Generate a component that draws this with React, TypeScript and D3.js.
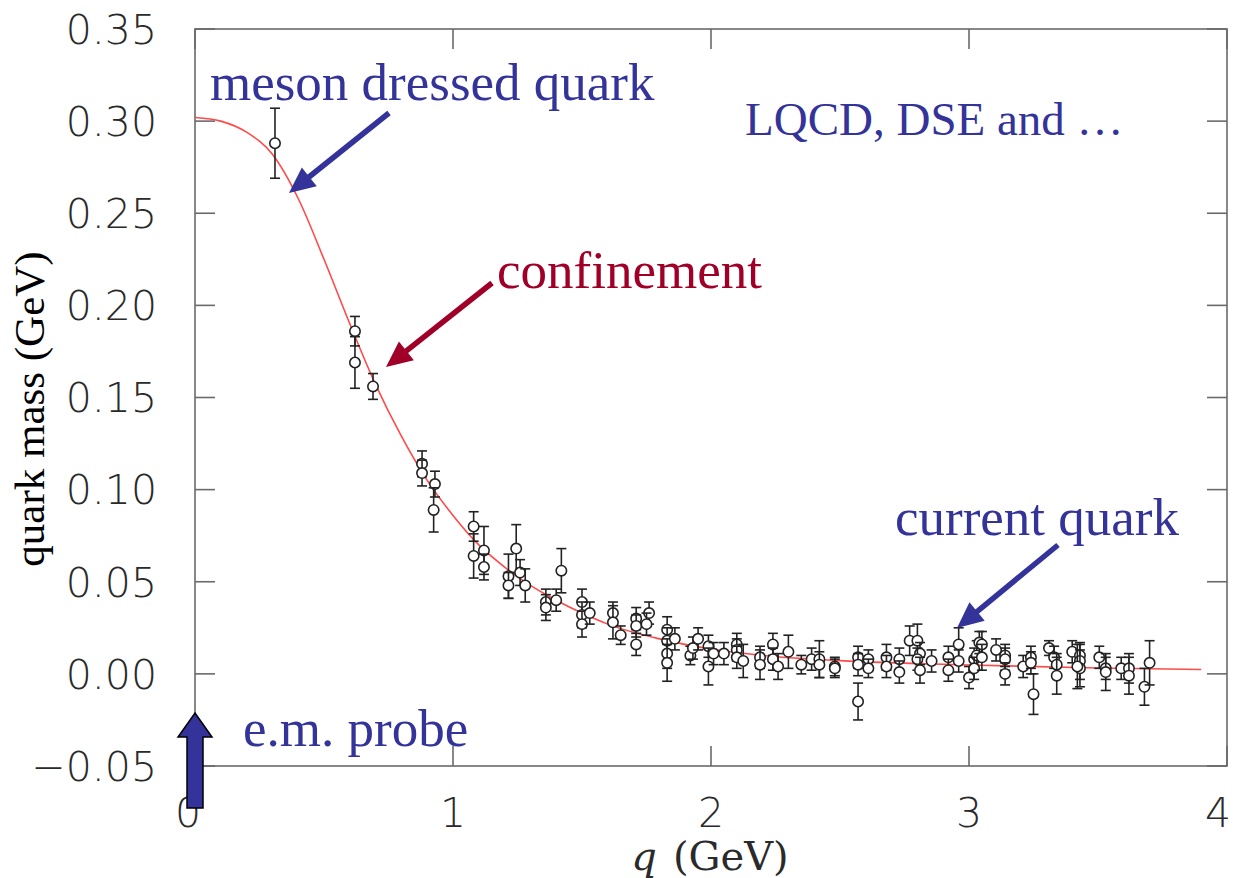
import React from 'react'
import * as d3 from 'd3'

// tick values
const xTicks = [0, 1, 2, 3, 4]
const yTicks = [-0.05, 0, 0.05, 0.1, 0.15, 0.2, 0.25, 0.3, 0.35]
const yTickLabels = ['\u22120.05', '0.00', '0.05', '0.10', '0.15', '0.20', '0.25', '0.30', '0.35']

// fitted mass function
const curveQ = [0, 0.1, 0.2, 0.3, 0.4, 0.5, 0.6, 0.7, 0.8, 0.9, 1.0, 1.1, 1.2, 1.3, 1.4, 1.5, 1.6, 1.8, 2.0, 2.2, 2.5, 3.0, 3.5, 3.9]
const curveMass = [0.302, 0.3, 0.294, 0.282, 0.258, 0.225, 0.19, 0.157, 0.129, 0.105, 0.086, 0.07, 0.058, 0.048, 0.04, 0.033, 0.027, 0.019, 0.0135, 0.01, 0.0072, 0.0048, 0.0032, 0.0024]

// lattice points: momentum, mass, half error
const pointQ = [
  0.31, 0.62, 0.62, 0.69, 0.88, 0.88, 0.93, 0.925, 1.08, 1.08,
  1.12, 1.12, 1.215, 1.215, 1.245, 1.26, 1.28, 1.36, 1.36, 1.40,
  1.42, 1.50, 1.50, 1.50, 1.53, 1.62, 1.62, 1.65, 1.71, 1.71,
  1.71, 1.76, 1.75, 1.83, 1.83, 1.83, 1.83, 1.86, 1.92, 1.93,
  1.95, 1.99, 1.99, 2.01, 2.05, 2.10, 2.10, 2.10, 2.125, 2.19,
  2.19, 2.24, 2.24, 2.26, 2.30, 2.35, 2.39, 2.42, 2.42, 2.48,
  2.48, 2.57, 2.57, 2.57, 2.61, 2.61, 2.68, 2.68, 2.73, 2.73,
  2.77, 2.80, 2.81, 2.80, 2.81, 2.855, 2.92, 2.92, 2.96, 2.96,
  3.00, 3.02, 3.03, 3.04, 3.02, 3.05, 3.05, 3.105, 3.14, 3.14,
  3.14, 3.21, 3.24, 3.24, 3.25, 3.31, 3.33, 3.34, 3.34, 3.40,
  3.43, 3.43, 3.43, 3.42, 3.505, 3.53, 3.53, 3.59, 3.62, 3.62,
  3.68, 3.70,
]
const pointMass = [
  0.288, 0.186, 0.169, 0.156, 0.114, 0.109, 0.103, 0.089, 0.080, 0.064,
  0.067, 0.058, 0.053, 0.048, 0.068, 0.055, 0.048, 0.039, 0.036, 0.040,
  0.056, 0.039, 0.032, 0.027, 0.033, 0.033, 0.028, 0.021, 0.030, 0.026,
  0.016, 0.033, 0.027, 0.024, 0.018, 0.011, 0.006, 0.019, 0.010, 0.014,
  0.019, 0.015, 0.004, 0.011, 0.011, 0.016, 0.013, 0.009, 0.007, 0.009,
  0.005, 0.016, 0.008, 0.004, 0.012, 0.005, 0.008, 0.008, 0.005, 0.004,
  0.003, 0.009, 0.005, -0.015, 0.008, 0.003, 0.009, 0.004, 0.008, 0.001,
  0.018, 0.018, 0.011, 0.008, 0.002, 0.007, 0.009, 0.002, 0.016, 0.007,
  -0.002, 0.008, 0.010, 0.017, 0.003, 0.016, 0.009, 0.013, 0.010, 0.008,
  0.000, 0.004, 0.009, 0.006, -0.011, 0.014, 0.009, 0.005, -0.001, 0.012,
  0.010, 0.007, 0.003, 0.004, 0.009, 0.003, 0.001, 0.003, 0.003, -0.001,
  -0.007, 0.006,
]
const pointErr = [
  0.019, 0.008, 0.014, 0.007, 0.007, 0.007, 0.007, 0.012, 0.008, 0.012,
  0.013, 0.007, 0.012, 0.007, 0.013, 0.007, 0.009, 0.007, 0.007, 0.006,
  0.012, 0.007, 0.007, 0.007, 0.006, 0.006, 0.009, 0.005, 0.006, 0.006,
  0.006, 0.006, 0.006, 0.007, 0.007, 0.008, 0.010, 0.006, 0.005, 0.006,
  0.006, 0.006, 0.010, 0.006, 0.006, 0.006, 0.006, 0.006, 0.009, 0.006,
  0.008, 0.006, 0.006, 0.007, 0.009, 0.005, 0.006, 0.010, 0.007, 0.005,
  0.005, 0.006, 0.006, 0.010, 0.005, 0.005, 0.007, 0.006, 0.006, 0.006,
  0.008, 0.009, 0.006, 0.006, 0.007, 0.006, 0.006, 0.006, 0.009, 0.006,
  0.006, 0.006, 0.008, 0.006, 0.006, 0.007, 0.007, 0.006, 0.006, 0.006,
  0.006, 0.006, 0.006, 0.006, 0.011, 0.004, 0.006, 0.006, 0.010, 0.006,
  0.006, 0.010, 0.010, 0.012, 0.006, 0.006, 0.010, 0.006, 0.008, 0.010,
  0.010, 0.012,
]

const W = 1236
const H = 878
const left = 195, right = 1227, top = 29, bottom = 766
const blue = '#333399'
const crimson = '#a00028'
const tickFont = '"DejaVu Sans", sans-serif'
const serif = '"Liberation Serif", "Times New Roman", serif'

const x = d3.scaleLinear().domain([0, 4]).range([left, right])
const y = d3.scaleLinear().domain([-0.05, 0.35]).range([bottom, top])

// simple line arrow: shaft + filled triangular head at (x2,y2)
function Arrow({ x1, y1, x2, y2, color }) {
  const ang = Math.atan2(y2 - y1, x2 - x1)
  const hl = 26, hw = 12
  const bx = x2 - hl * Math.cos(ang), by = y2 - hl * Math.sin(ang)
  const px = -Math.sin(ang) * hw, py = Math.cos(ang) * hw
  return (
    <g>
      <line x1={x1} y1={y1} x2={bx + 4 * Math.cos(ang)} y2={by + 4 * Math.sin(ang)} stroke={color} strokeWidth={5.5} />
      <path d={`M${x2},${y2}L${bx + px},${by + py}L${bx - px},${by - py}Z`} fill={color} />
    </g>
  )
}

export default function App() {
  const curve = d3.line<number>()
    .x((d, i) => x(curveQ[i]))
    .y((d) => y(d))
    .curve(d3.curveMonotoneX)(curveMass)

  const frame = '#6a6a6a'
  const tickLen = 20
  // nudge the outer x labels so they stay inside the page
  const xLabelPos = (t: number) => (t === 0 ? x(t) - 7 : t === 4 ? x(t) - 9 : x(t))

  return (
    <svg width={W} height={H} style={{ position: 'absolute', left: 0, top: 0, background: '#fff' }}>
      {/* y label */}
      <text transform={`translate(44,${(253 + 565) / 2}) rotate(-90)`} textAnchor="middle"
        fontFamily={serif} fontSize={43} fill="#000">quark mass (GeV)</text>

      {/* tick labels */}
      {yTicks.map((t, i) => (
        <text key={'yl' + i} x={157} y={y(t)} dy="0.36em" textAnchor="end"
          fontFamily={tickFont} fontWeight={200} fontSize={41} fill="#2a2a2a">{yTickLabels[i]}</text>
      ))}
      {xTicks.map((t) => (
        <text key={'xl' + t} x={xLabelPos(t)} y={827} textAnchor="middle"
          fontFamily={tickFont} fontWeight={200} fontSize={41} fill="#2a2a2a">{t}</text>
      ))}
      <text x={710} y={870} textAnchor="middle" fontFamily='"DejaVu Serif", serif' fontWeight={200} fontSize={40} fill="#2a2a2a">
        <tspan fontStyle="italic">q</tspan>
        <tspan dx={16}>(GeV)</tspan>
      </text>

      {/* frame and ticks */}
      <rect x={left} y={top} width={right - left} height={bottom - top} fill="none" stroke={frame} strokeWidth={1.6} />
      {yTicks.map((t) => (
        <g key={'yt' + t} stroke={frame} strokeWidth={1.6}>
          <line x1={left} x2={left + tickLen} y1={y(t)} y2={y(t)} />
          <line x1={right} x2={right - tickLen} y1={y(t)} y2={y(t)} />
        </g>
      ))}
      {xTicks.map((t) => (
        <g key={'xt' + t} stroke={frame} strokeWidth={1.6}>
          <line x1={x(t)} x2={x(t)} y1={bottom} y2={bottom - tickLen} />
          <line x1={x(t)} x2={x(t)} y1={top} y2={top + tickLen} />
        </g>
      ))}

      {/* fit curve */}
      <path d={curve || ''} fill="none" stroke="#ff4a4a" strokeWidth={1.6} />

      {/* data points with error bars */}
      <g stroke="#222" strokeWidth={1.6} fill="none">
        {pointQ.map((q, i) => {
          const cx = x(q), cy = y(pointMass[i])
          const yHi = y(pointMass[i] + pointErr[i]), yLo = y(pointMass[i] - pointErr[i])
          return (
            <g key={'p' + i}>
              <line x1={cx} x2={cx} y1={yHi} y2={cy - 5} />
              <line x1={cx} x2={cx} y1={cy + 5} y2={yLo} />
              <line x1={cx - 5} x2={cx + 5} y1={yHi} y2={yHi} />
              <line x1={cx - 5} x2={cx + 5} y1={yLo} y2={yLo} />
              <circle cx={cx} cy={cy} r={5.2} fill="#fff" />
            </g>
          )
        })}
      </g>

      {/* annotations */}
      <text x={210} y={100} fontFamily={serif} fontSize={53} fill={blue}>meson dressed quark</text>
      <Arrow x1={389} y1={113} x2={289} y2={193} color={blue} />

      <text x={745} y={135} fontFamily={serif} fontSize={47} fill={blue}>LQCD, DSE and …</text>

      <text x={497} y={288} fontFamily={serif} fontSize={53} fill={crimson}>confinement</text>
      <Arrow x1={492} y1={283} x2={386} y2={367} color={crimson} />

      <text x={895} y={535} fontFamily={serif} fontSize={53} fill={blue}>current quark</text>
      <Arrow x1={1058} y1={545} x2={957} y2={628} color={blue} />

      <text x={243} y={746} fontFamily={serif} fontSize={53} fill={blue}>e.m. probe</text>
      <path d="M195,713 L212,737 L203,737 L203,808 L187,808 L187,737 L178,737 Z"
        fill={blue} stroke="#000" strokeWidth={1.5} strokeLinejoin="miter" />
    </svg>
  )
}
